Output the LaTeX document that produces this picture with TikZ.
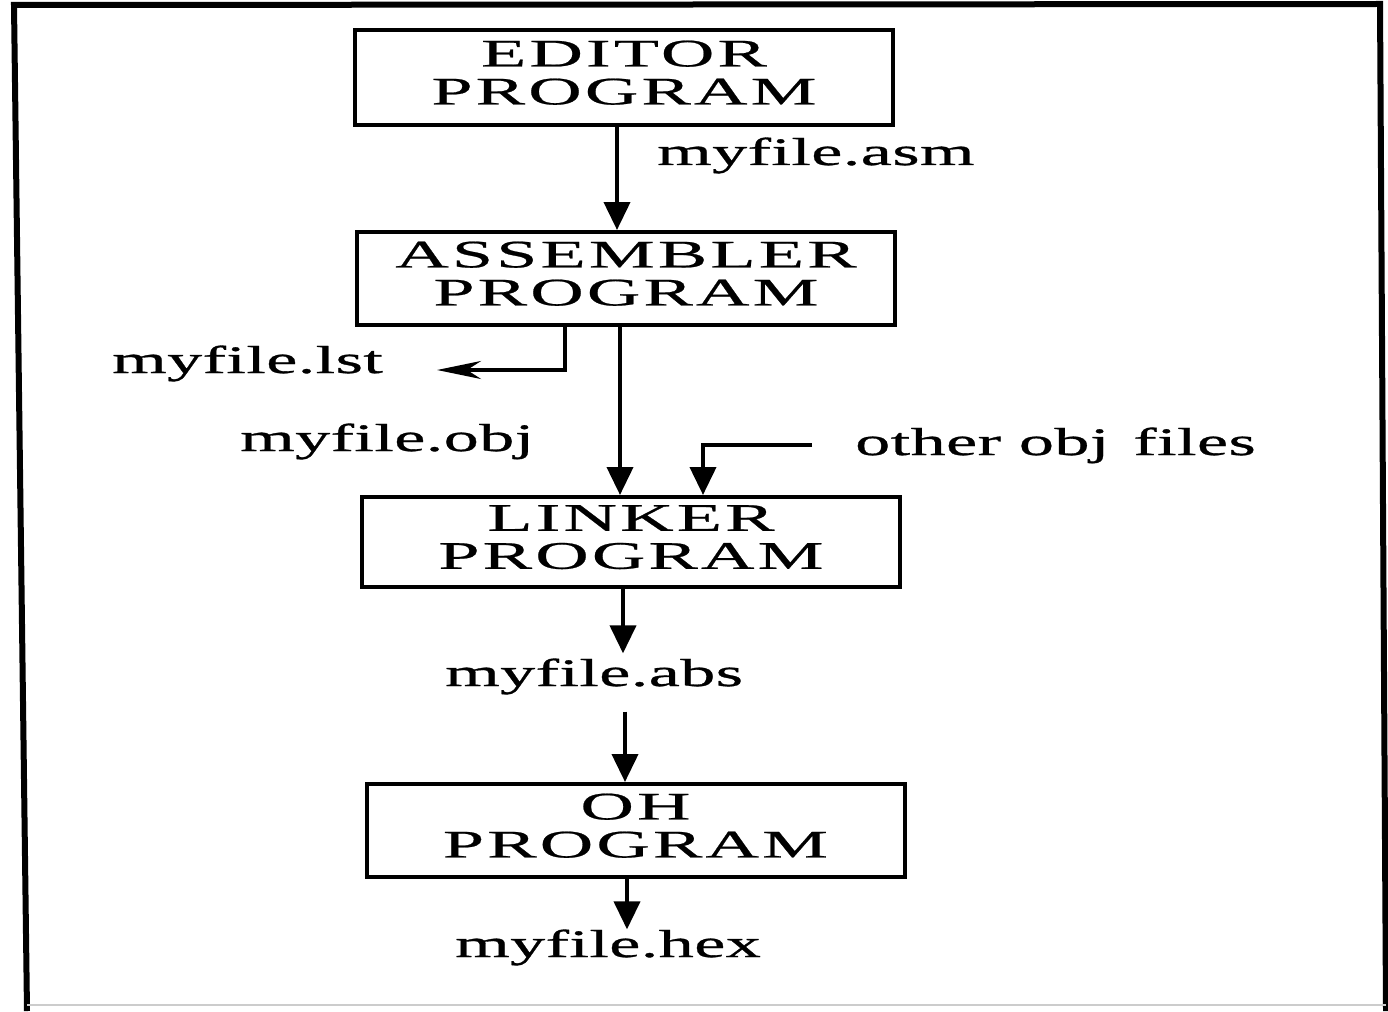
\documentclass[tikz,border=0pt]{standalone}
\usepackage{fontspec}
\setmainfont{Liberation Serif}
\newfontfamily\capfont[FakeStretch=1.9,LetterSpace=8,FakeBold=0.6]{Liberation Serif}
\newfontfamily\labfont[FakeStretch=1.8,LetterSpace=1,FakeBold=0.8]{Liberation Serif}
\usetikzlibrary{arrows.meta,calc}
\begin{document}
\begin{tikzpicture}[x=1pt,y=-1pt,
  progbox/.style={draw, line width=4pt, minimum width=538pt, minimum height=93pt, inner sep=0pt, align=center, font=\capfont\fontsize{39}{38}\selectfont},
  lab/.style={inner sep=0pt, anchor=base west, font=\labfont\fontsize{39}{39}\selectfont},
  flow/.style={line width=4pt, -{Triangle[width=26pt,length=28pt]}},
  sideflow/.style={line width=4pt, -{Stealth[width=18pt,length=44pt,inset=14pt]}},
]
\useasboundingbox (0,0) rectangle (1388,1011);
% frame
\draw[line width=6pt] (27,1011) -- (14,5) -- (1380,4) -- (1386,1011);
\draw[black!20, line width=1.5pt] (27,1005) -- (1386,1005);

% boxes
\node[progbox, minimum height=95pt] (ed) at (624,77.5) {EDITOR\\PROGRAM\rule[-10pt]{0pt}{0pt}};
\node[progbox] (as) at (626,278.5) {ASSEMBLER\\PROGRAM\rule[-10pt]{0pt}{0pt}};
\node[progbox, minimum height=90pt] (li) at (631,542) {LINKER\\PROGRAM\rule[-10pt]{0pt}{0pt}};
\node[progbox] (oh) at (635.5,830.5) {OH\\PROGRAM\rule[-10pt]{0pt}{0pt}};

% labels
\node[lab] (asm) at (657,165) {myfile.asm};
\node[lab] (lst) at (112,373) {myfile.lst};
\node[lab] (obj) at (240,451) {myfile.obj};
\node[lab] (oth) at (855,455) {other obj\hspace{6pt} files};
\node[lab] (abs) at (445,686) {myfile.abs};
\node[lab] (hex) at (455,957) {myfile.hex};

% connectors
\draw[flow] ([xshift=-7pt]ed.south) -- ([xshift=-9pt]as.north);
\coordinate (lstend) at (437,370);
\draw[sideflow] ([xshift=-61pt]as.south) |- (lstend);
\draw[flow] ([xshift=-6pt]as.south) -- ([xshift=-11pt]li.north);
\draw[flow] ([xshift=-43pt]oth.west) -| ([xshift=72pt]li.north);
\draw[flow] ([xshift=-8pt]li.south) -- ($(abs.north -| li.south)+(-8,-5)$);
\draw[flow] ($(abs.south -| oh.north)+(-10.5,17)$) -- ([xshift=-10.5pt]oh.north);
\draw[flow] ([xshift=-8.5pt]oh.south) -- ($(hex.north -| oh.south)+(-8.5,0)$);
\end{tikzpicture}
\end{document}
